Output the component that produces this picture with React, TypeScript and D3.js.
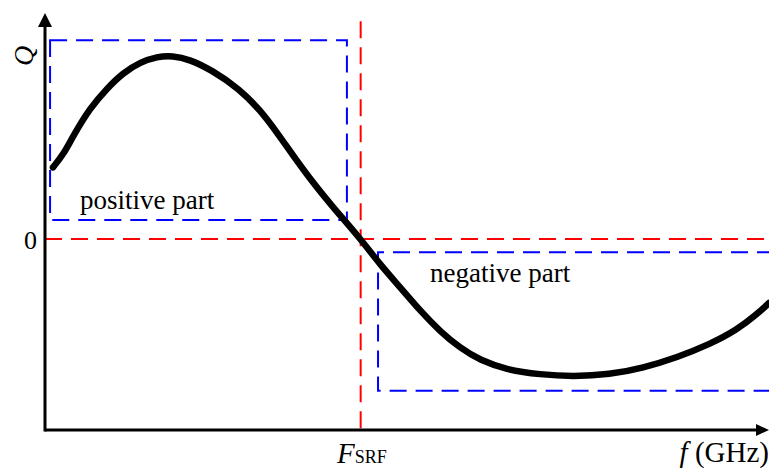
import * as d3 from 'd3';

// frequency (GHz) and quality factor
const freq = [0.11, 0.25, 0.39, 0.62, 0.86, 1.08, 1.31, 1.55, 1.76, 2.0, 2.3, 2.69, 2.97, 3.2, 3.43, 3.7, 3.98, 4.36, 4.63, 4.9, 5.18, 5.46, 5.73, 6.01, 6.38, 6.84, 7.29, 7.8, 8.26, 8.73, 9.19, 9.56, 9.83, 10.0];
const qValues = [0.75, 0.88, 1.08, 1.37, 1.58, 1.74, 1.85, 1.91, 1.92, 1.88, 1.77, 1.57, 1.35, 1.12, 0.87, 0.59, 0.33, 0, -0.27, -0.5, -0.75, -0.97, -1.14, -1.27, -1.37, -1.42, -1.44, -1.42, -1.35, -1.24, -1.1, -0.95, -0.79, -0.67];

const fSrf = 4.36;
// [fStart, fEnd, qTop, qBottom]
const positiveBox = [0.07, 4.17, 2.08, 0.2];
const negativeBox = [4.6, 10.0, -0.14, -1.59];

const W = 769;
const H = 468;
const font = '"Liberation Serif", "Times New Roman", serif';

export default function App() {
  const x = d3.scaleLinear().domain([0, 10]).range([45, 769]);
  const y = d3.scaleLinear().domain([-2, 2]).range([430, 48]);

  const pts = freq.map((f, i) => [f, qValues[i]] as [number, number]);
  const line = d3.line<[number, number]>()
    .x((d) => x(d[0]))
    .y((d) => y(d[1]))
    .curve(d3.curveBasis);

  const x0 = x(0);
  const y0 = y(-2);
  const yTop = 13;
  const xEnd = 769;

  const [pa, pb, pt, pbm] = positiveBox;
  const [na, nb, nt, nbm] = negativeBox;

  return (
    <svg width={W} height={H} style={{ position: 'absolute', left: 0, top: 0, background: '#fff' }}>
      {/* red reference lines */}
      <line x1={x0} x2={xEnd} y1={y(0)} y2={y(0)} stroke="#ff0000" strokeWidth={2} strokeDasharray="17,9" />
      <line x1={x(fSrf)} x2={x(fSrf)} y1={y(2.28)} y2={y0} stroke="#ff0000" strokeWidth={2} strokeDasharray="17,9" />

      {/* blue boxes */}
      <rect x={x(pa)} y={y(pt)} width={x(pb) - x(pa)} height={y(pbm) - y(pt)}
        fill="none" stroke="#0000ff" strokeWidth={2} strokeDasharray="17,9" />
      <path d={`M${x(nb) + 5},${y(nt)}H${x(na)}V${y(nbm)}H${x(nb) + 5}`}
        fill="none" stroke="#0000ff" strokeWidth={2} strokeDasharray="17,9" />

      {/* curve */}
      <path d={line(pts) || ''} fill="none" stroke="#000" strokeWidth={6.5} strokeLinecap="round" strokeLinejoin="round" />

      {/* axes */}
      <line x1={x0} x2={x0} y1={y0 + 1.5} y2={yTop + 10} stroke="#000" strokeWidth={3} />
      <line x1={x0} x2={xEnd - 10} y1={y0} y2={y0} stroke="#000" strokeWidth={3} />
      <path d={`M${x0},${yTop}L${x0 - 7},${yTop + 14}L${x0 + 7},${yTop + 14}Z`} fill="#000" />
      <path d={`M${xEnd},${y0}L${xEnd - 13},${y0 - 6}L${xEnd - 13},${y0 + 6}Z`} fill="#000" />

      {/* labels */}
      <text transform="translate(33,56) rotate(-90)" textAnchor="middle" fontFamily={font} fontSize={28} fontStyle="italic">Q</text>
      <text x={37} y={249} textAnchor="end" fontFamily={font} fontSize={26}>0</text>
      <text x={80} y={209} fontFamily={font} fontSize={27}>positive part</text>
      <text x={430} y={282} fontFamily={font} fontSize={27}>negative part</text>
      <text x={337} y={463} fontFamily={font} fontSize={29}>
        <tspan fontStyle="italic">F</tspan>
        <tspan fontSize={18}>SRF</tspan>
      </text>
      <text x={769} y={462} textAnchor="end" fontFamily={font} fontSize={29}>
        <tspan fontStyle="italic">f</tspan>
        <tspan> (GHz)</tspan>
      </text>
    </svg>
  );
}
